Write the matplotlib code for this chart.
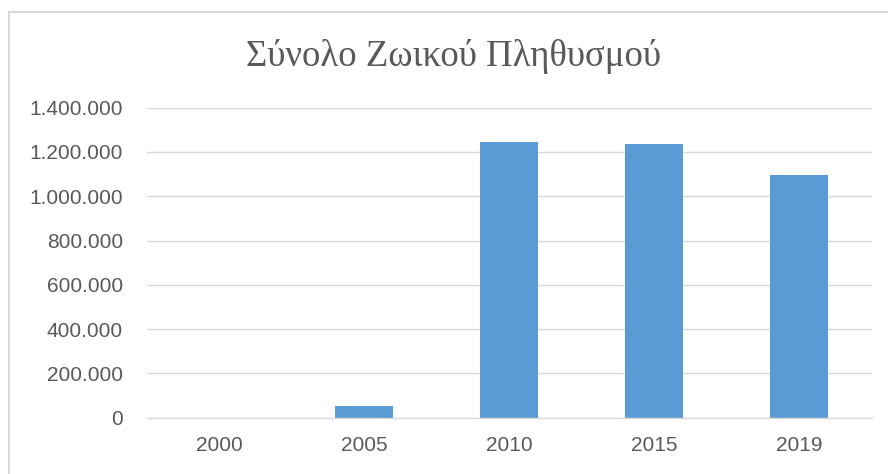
import matplotlib
matplotlib.use("Agg")
import matplotlib.pyplot as plt
from matplotlib.ticker import FuncFormatter
from matplotlib.patches import Rectangle

years = ["2000", "2005", "2010", "2015", "2019"]
population = [0, 54000, 1243000, 1237000, 1096000]
y_ticks = [0, 200000, 400000, 600000, 800000, 1000000, 1200000, 1400000]

TITLE = "Σύνολο Ζωικού Πληθυσμού"
BAR_COLOR = "#5B9BD5"
TEXT_COLOR = "#595959"
GRID_COLOR = "#D9D9D9"

fig = plt.figure(figsize=(8.88, 4.74), dpi=100)
fig.patch.set_facecolor("white")

# outer chart frame (only top/left visible in the crop)
fig.patches.append(Rectangle((9 / 888, -0.1), 1.2, (474 - 12) / 474 + 0.1,
                             transform=fig.transFigure, fill=False,
                             edgecolor=GRID_COLOR, linewidth=1.5))

ax = fig.add_axes([146.7 / 888, 0.1188, 725 / 888, 0.654])
x = range(len(years))
ax.bar(x, population, width=0.4, color=BAR_COLOR, zorder=3)

ax.set_xlim(-0.5, len(years) - 0.5)
ax.set_ylim(0, 1400000)
ax.set_yticks(y_ticks)
ax.yaxis.set_major_formatter(FuncFormatter(lambda v, p: f"{int(v):,}".replace(",", ".")))
ax.set_xticks(list(x))
ax.set_xticklabels(years)

for s in ["top", "right", "left"]:
    ax.spines[s].set_visible(False)
ax.spines["bottom"].set_color(GRID_COLOR)
ax.spines["bottom"].set_linewidth(1.0)
ax.spines["bottom"].set_zorder(4)

ax.grid(True, axis="y", color=GRID_COLOR, linewidth=1.0, zorder=0)
ax.tick_params(axis="both", length=0, labelcolor=TEXT_COLOR, labelsize=15)
ax.tick_params(axis="y", pad=17)
ax.tick_params(axis="x", pad=13)
for lbl in ax.get_xticklabels() + ax.get_yticklabels():
    lbl.set_fontfamily("Liberation Sans")

fig.text(453 / 888, 1 - 66 / 474, TITLE, ha="center", va="baseline",
         fontsize=26.5, color=TEXT_COLOR, family="Liberation Serif")

plt.savefig("out.png", dpi=100)
plt.close()
